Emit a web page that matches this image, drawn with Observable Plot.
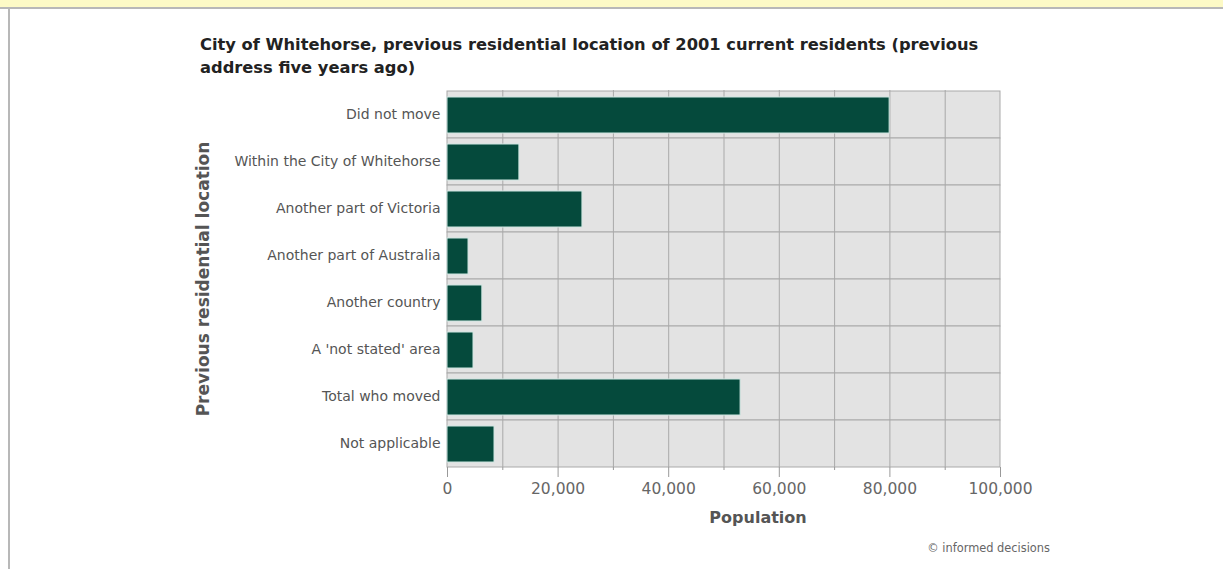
<!DOCTYPE html>
<html>
<head>
<meta charset="utf-8">
<script src="https://cdn.jsdelivr.net/npm/d3@7"></script>
<script src="https://cdn.jsdelivr.net/npm/@observablehq/plot@0.6"></script>
<style>
  html, body { margin: 0; padding: 0; background: #fff; }
  body { width: 1223px; height: 569px; overflow: hidden; font-family: "DejaVu Sans", sans-serif; }
  #banner { height: 7px; background: #fdfac6; border-bottom: 2px solid #b8b8b8; }
  #wrap { position: relative; margin-left: 8px; border-left: 2px solid #b8b8b8; height: 560px; }
  #title { position: absolute; left: 190px; top: 24px; font-size: 16.3px; font-weight: bold; color: #222; line-height: 23px; white-space: nowrap; }
  #chart { position: absolute; left: 0; top: 71px; }
  #caption { position: absolute; right: 173px; top: 532px; font-size: 11.4px; color: #666; }
</style>
</head>
<body>
<div id="banner"></div>
<div id="wrap">
  <div id="title">City of Whitehorse, previous residential location of 2001 current residents (previous<br>address five years ago)</div>
  <div id="chart"></div>
  <div id="caption">© informed decisions</div>
</div>
<script>
const categories = [
  "Did not move",
  "Within the City of Whitehorse",
  "Another part of Victoria",
  "Another part of Australia",
  "Another country",
  "A 'not stated' area",
  "Total who moved",
  "Not applicable"
];
const population = [79950, 13000, 24400, 3800, 6300, 4700, 53000, 8500];
const majorTicks = [0, 20000, 40000, 60000, 80000, 100000];
const minorTicks = [10000, 30000, 50000, 70000, 90000];
const gridValues = [10000, 20000, 30000, 40000, 50000, 60000, 70000, 80000, 90000];
const xDomain = [0, 100000];
const xLabel = "Population";
const yLabel = "Previous residential location";

const data = categories.map((c, i) => ({category: c, value: population[i]}));
const bands = categories.map(c => ({category: c, x1: xDomain[0], x2: xDomain[1]}));

const chart = Plot.plot({
  width: 1213,
  height: 455,
  marginLeft: 437,
  marginRight: 223,
  marginTop: 10,
  marginBottom: 68,
  style: {fontFamily: "DejaVu Sans, sans-serif", background: "transparent"},
  x: {domain: xDomain},
  y: {domain: categories, padding: 0},
  marks: [
    Plot.barX(bands, {x1: "x1", x2: "x2", y: "category", fill: "#e3e3e3", stroke: "#a9a9a9", strokeWidth: 1}),
    Plot.ruleX(gridValues, {stroke: "#a9a9a9", strokeWidth: 1}),
    Plot.barX(data, {x: "value", y: "category", fill: "#054a3c", stroke: "#cfe6e1", strokeWidth: 1, insetTop: 6, insetBottom: 5}),
    Plot.axisY({tickSize: 0, tickPadding: 7, fontSize: 14, color: "#555", label: null}),
    Plot.axisX(majorTicks, {tickSize: 10, tickPadding: 5, fontSize: 15.5, color: "#666", stroke: "#999", tickFormat: d3.format(","), label: null}),
    Plot.axisX(minorTicks, {tickSize: 3, tickFormat: () => "", stroke: "#999", label: null}),
    Plot.text([xLabel], {frameAnchor: "bottom", dx: 34, dy: 55, fontSize: 16, fontWeight: "bold", fill: "#555"}),
    Plot.text([yLabel], {frameAnchor: "left", textAnchor: "middle", dx: -244, rotate: -90, fontSize: 17, fontWeight: "bold", fill: "#555"})
  ]
});
document.getElementById("chart").appendChild(chart);
</script>
</body>
</html>
